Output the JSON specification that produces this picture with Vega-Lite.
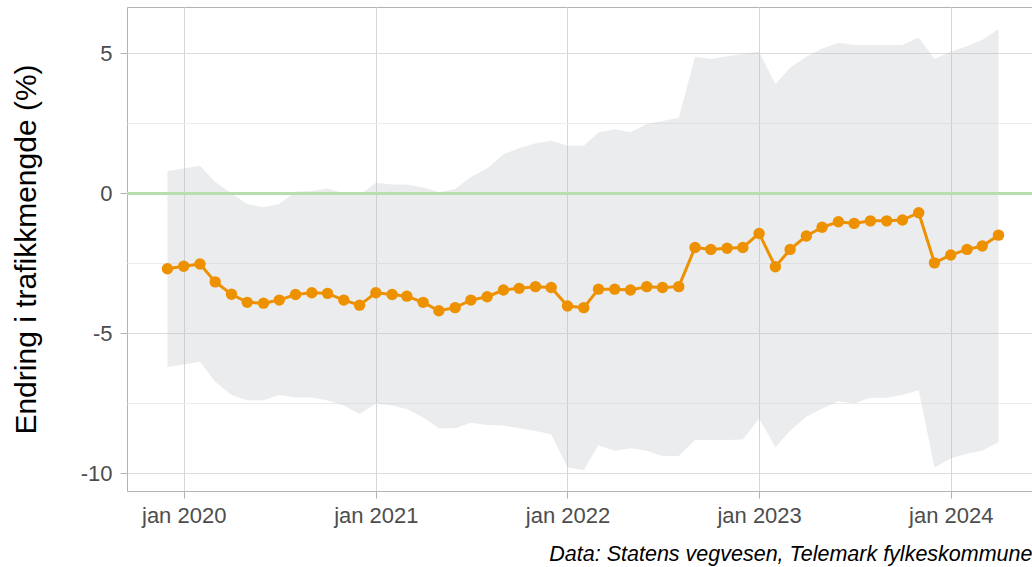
{
  "$schema": "https://vega.github.io/schema/vega-lite/v6.json",
  "autosize": {"type": "none"},
  "padding": {"left": 127, "top": 7, "right": 0, "bottom": 76},
  "width": 913,
  "height": 484,
  "background": "white",
  "config": {
    "view": {"stroke": "#b3b3b3", "strokeWidth": 1},
    "font": "Liberation Sans",
    "axis": {
      "domain": false,
      "labelFont": "Liberation Sans",
      "labelFontSize": 22,
      "labelColor": "#4d4d4d",
      "tickColor": "#b3b3b3",
      "tickSize": 7,
      "gridColor": "#dedede",
      "gridWidth": 1,
      "titleFont": "Liberation Sans",
      "titleFontWeight": "normal",
      "titleColor": "#000000"
    }
  },
  "title": {
    "text": "Data: Statens vegvesen, Telemark fylkeskommune",
    "orient": "bottom",
    "anchor": "end",
    "font": "Liberation Sans",
    "fontSize": 21.5,
    "fontStyle": "italic",
    "fontWeight": "normal",
    "color": "#000000",
    "offset": 18,
    "dx": -9
  },
  "data": {
    "values": [
      {"date": "2019-12-01", "value": -2.69, "lo": -6.20, "hi": 0.80},
      {"date": "2020-01-01", "value": -2.60, "lo": -6.11, "hi": 0.89},
      {"date": "2020-02-01", "value": -2.52, "lo": -6.01, "hi": 0.99},
      {"date": "2020-03-01", "value": -3.16, "lo": -6.73, "hi": 0.41},
      {"date": "2020-04-01", "value": -3.60, "lo": -7.20, "hi": 0.00},
      {"date": "2020-05-01", "value": -3.89, "lo": -7.39, "hi": -0.38},
      {"date": "2020-06-01", "value": -3.92, "lo": -7.39, "hi": -0.49},
      {"date": "2020-07-01", "value": -3.81, "lo": -7.20, "hi": -0.38},
      {"date": "2020-08-01", "value": -3.61, "lo": -7.29, "hi": 0.07},
      {"date": "2020-09-01", "value": -3.55, "lo": -7.29, "hi": 0.09},
      {"date": "2020-10-01", "value": -3.57, "lo": -7.40, "hi": 0.18},
      {"date": "2020-11-01", "value": -3.81, "lo": -7.58, "hi": 0.00},
      {"date": "2020-12-01", "value": -3.99, "lo": -7.88, "hi": -0.06},
      {"date": "2021-01-01", "value": -3.55, "lo": -7.50, "hi": 0.38},
      {"date": "2021-02-01", "value": -3.61, "lo": -7.58, "hi": 0.32},
      {"date": "2021-03-01", "value": -3.67, "lo": -7.70, "hi": 0.32},
      {"date": "2021-04-01", "value": -3.89, "lo": -8.00, "hi": 0.21},
      {"date": "2021-05-01", "value": -4.19, "lo": -8.39, "hi": 0.04},
      {"date": "2021-06-01", "value": -4.08, "lo": -8.39, "hi": 0.16},
      {"date": "2021-07-01", "value": -3.81, "lo": -8.19, "hi": 0.59},
      {"date": "2021-08-01", "value": -3.69, "lo": -8.27, "hi": 0.89},
      {"date": "2021-09-01", "value": -3.45, "lo": -8.29, "hi": 1.40},
      {"date": "2021-10-01", "value": -3.39, "lo": -8.39, "hi": 1.61},
      {"date": "2021-11-01", "value": -3.33, "lo": -8.49, "hi": 1.79},
      {"date": "2021-12-01", "value": -3.36, "lo": -8.60, "hi": 1.88},
      {"date": "2022-01-01", "value": -4.02, "lo": -9.79, "hi": 1.70},
      {"date": "2022-02-01", "value": -4.08, "lo": -9.88, "hi": 1.70},
      {"date": "2022-03-01", "value": -3.42, "lo": -9.00, "hi": 2.18},
      {"date": "2022-04-01", "value": -3.42, "lo": -9.19, "hi": 2.29},
      {"date": "2022-05-01", "value": -3.45, "lo": -9.10, "hi": 2.19},
      {"date": "2022-06-01", "value": -3.33, "lo": -9.19, "hi": 2.48},
      {"date": "2022-07-01", "value": -3.36, "lo": -9.38, "hi": 2.59},
      {"date": "2022-08-01", "value": -3.33, "lo": -9.38, "hi": 2.70},
      {"date": "2022-09-01", "value": -1.93, "lo": -8.81, "hi": 4.88},
      {"date": "2022-10-01", "value": -2.00, "lo": -8.81, "hi": 4.80},
      {"date": "2022-11-01", "value": -1.96, "lo": -8.81, "hi": 4.90},
      {"date": "2022-12-01", "value": -1.93, "lo": -8.79, "hi": 4.98},
      {"date": "2023-01-01", "value": -1.43, "lo": -8.04, "hi": 5.06},
      {"date": "2023-02-01", "value": -2.62, "lo": -9.07, "hi": 3.90},
      {"date": "2023-03-01", "value": -2.00, "lo": -8.48, "hi": 4.49},
      {"date": "2023-04-01", "value": -1.52, "lo": -7.98, "hi": 4.88},
      {"date": "2023-05-01", "value": -1.21, "lo": -7.68, "hi": 5.18},
      {"date": "2023-06-01", "value": -1.01, "lo": -7.42, "hi": 5.38},
      {"date": "2023-07-01", "value": -1.07, "lo": -7.50, "hi": 5.30},
      {"date": "2023-08-01", "value": -0.98, "lo": -7.30, "hi": 5.30},
      {"date": "2023-09-01", "value": -0.98, "lo": -7.30, "hi": 5.30},
      {"date": "2023-10-01", "value": -0.95, "lo": -7.20, "hi": 5.30},
      {"date": "2023-11-01", "value": -0.69, "lo": -7.03, "hi": 5.57},
      {"date": "2023-12-01", "value": -2.48, "lo": -9.79, "hi": 4.80},
      {"date": "2024-01-01", "value": -2.20, "lo": -9.47, "hi": 5.06},
      {"date": "2024-02-01", "value": -2.00, "lo": -9.29, "hi": 5.27},
      {"date": "2024-03-01", "value": -1.88, "lo": -9.19, "hi": 5.48},
      {"date": "2024-04-01", "value": -1.49, "lo": -8.88, "hi": 5.87}
    ]
  },
  "encoding": {
    "x": {
      "field": "date",
      "type": "temporal",
      "scale": {
        "type": "utc",
        "domain": [
          {"year": 2019, "month": 9, "date": 15, "utc": true},
          {"year": 2024, "month": 6, "date": 19, "utc": true}
        ]
      },
      "axis": {
        "title": null,
        "values": [
          {"year": 2020, "month": 1, "date": 1, "utc": true},
          {"year": 2021, "month": 1, "date": 1, "utc": true},
          {"year": 2022, "month": 1, "date": 1, "utc": true},
          {"year": 2023, "month": 1, "date": 1, "utc": true},
          {"year": 2024, "month": 1, "date": 1, "utc": true}
        ],
        "labelExpr": "'jan ' + utcFormat(datum.value, '%Y')",
        "labelPadding": 7,
        "gridColor": "#d6d6d6"
      }
    }
  },
  "layer": [
    {
      "mark": {"type": "area", "color": "#b8bfc6", "opacity": 0.3},
      "encoding": {
        "y": {
          "field": "lo",
          "type": "quantitative",
          "scale": {"domain": [-10.63, 6.66], "nice": false, "zero": false},
          "axis": {
            "title": "Endring i trafikkmengde (%)",
            "titleFontSize": 30,
            "titlePadding": 39,
            "values": [-10, -7.5, -5, -2.5, 0, 2.5, 5],
            "labelExpr": "datum.value % 5 === 0 ? '' + datum.value : ''",
            "labelPadding": 8,
            "gridColor": {"condition": {"test": "datum.value % 5 !== 0", "value": "#ececec"}, "value": "#dcdcdc"},
            "tickColor": {"condition": {"test": "datum.value % 5 !== 0", "value": "transparent"}, "value": "#b3b3b3"}
          }
        },
        "y2": {"field": "hi"}
      }
    },
    {
      "mark": {"type": "rule", "stroke": "#b9deae", "strokeOpacity": 1, "strokeWidth": 3},
      "encoding": {"y": {"datum": 0}, "x": null}
    },
    {
      "mark": {"type": "line", "color": "#ee9100", "strokeWidth": 3},
      "encoding": {"y": {"field": "value", "type": "quantitative"}}
    },
    {
      "mark": {"type": "point", "filled": true, "color": "#ee9100", "opacity": 1, "size": 130},
      "encoding": {"y": {"field": "value", "type": "quantitative"}}
    }
  ]
}
